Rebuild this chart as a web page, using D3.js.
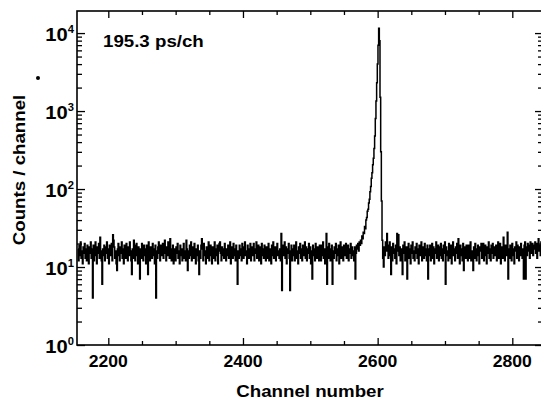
<!DOCTYPE html>
<html>
<head>
<meta charset="utf-8">
<script src="https://cdn.jsdelivr.net/npm/d3@7"></script>
<style>
  html, body { margin: 0; padding: 0; background: #fff; }
  svg { display: block; font-family: "Liberation Sans", Arial, Helvetica, sans-serif; }
</style>
</head>
<body>
<script>
// ---- data ----
const firstChannel = 2155;
const counts = [
  17,12,19,14,21,13,16,11,18,15,20,13,17,12,19,14,11,18,15,21,
  13,17,4,19,12,16,21,14,11,18,15,20,13,24,16,12,6,17,14,19,
  12,18,15,21,13,17,11,19,14,16,20,12,26,22,18,13,16,11,9,17,
  20,14,12,18,15,21,13,17,11,19,16,13,20,15,12,18,14,21,16,12,
  8,17,13,22,19,12,16,20,14,11,18,15,7,17,13,20,16,12,19,14,
  17,11,19,14,8,21,15,12,18,16,13,20,14,17,11,19,4,16,13,18,
  21,15,12,19,14,17,20,13,16,22,15,12,18,14,21,16,13,23,17,12,
  15,19,11,17,14,12,18,15,20,13,16,11,19,14,17,12,15,20,13,16,
  12,22,17,9,16,13,19,14,21,12,15,18,13,20,16,11,17,14,19,12,
  8,16,13,19,23,17,12,20,14,16,11,18,15,13,21,12,16,19,14,11,
  18,13,16,21,12,17,14,19,11,16,20,21,15,12,18,14,17,13,20,15,
  12,17,14,19,13,16,21,11,18,15,13,20,14,17,12,19,15,6,16,13,
  19,14,17,12,20,15,13,18,21,14,16,11,19,15,13,17,20,12,16,18,
  14,20,12,17,15,21,13,16,19,12,18,15,11,20,14,17,13,19,15,12,
  18,13,16,20,12,17,15,11,19,14,21,13,16,18,12,17,20,14,16,13,
  17,12,27,5,19,14,16,21,13,18,11,17,15,20,13,5,16,19,12,17,
  14,19,12,17,21,13,16,11,18,15,20,13,17,12,19,14,16,21,13,18,
  12,17,15,20,13,18,11,16,7,19,14,17,12,20,15,13,18,16,12,19,
  15,12,19,14,21,13,17,11,16,27,6,18,13,20,15,12,17,19,6,16,
  13,18,15,20,12,17,14,19,11,16,21,13,18,15,12,19,14,17,20,13,
  16,19,12,17,15,20,13,18,14,16,12,18,7,15,19,17,20,16,21,19,
  22,20,25,23,28,27,33,31,40,43,52,55,66,74,92,108,138,162,205,248,
  330,480,800,1350,2300,4000,7000,11500,8000,1500,300,70,22,13,10,18,14,21,16,27,
  19,13,17,21,14,8,18,12,20,15,17,13,19,11,27,16,26,14,18,12,
  17,13,8,19,15,21,12,16,18,7,14,20,13,17,11,19,15,21,13,16,
  12,18,15,20,13,17,11,19,14,16,21,12,18,15,13,20,14,17,12,19,
  7,17,14,19,12,16,20,13,18,11,17,15,21,13,16,19,12,18,14,20,
  13,17,12,19,15,21,6,18,14,16,12,20,13,17,19,11,16,21,14,17,
  12,18,15,20,13,23,16,11,19,14,17,12,20,9,18,15,13,19,16,12,
  19,13,17,21,12,16,14,9,18,13,20,15,12,17,19,14,11,18,16,20,
  13,17,20,12,16,19,14,11,18,15,21,13,17,12,19,15,20,13,16,18,
  14,19,12,17,21,13,16,20,11,18,15,13,24,17,12,19,14,16,28,7,
  17,13,19,15,12,20,14,17,11,18,16,21,13,19,15,12,18,14,20,16,
  13,17,7,19,21,7,18,14,20,16,19,13,21,17,15,20,14,19,17,21,
  15,20,13,18,23,16,19,14,21,17,15
];
const xMajorTicks = [2200, 2400, 2600, 2800];
const xMinorStep = 50;
const yDecadeExponents = [0, 1, 2, 3, 4];
const annotationText = "195.3 ps/ch";
const xTitle = "Channel number";
const yTitle = "Counts / channel";

// ---- layout ----
const W = 541, H = 400;
const L = 77, R = 542, T = 11, B = 345;

const svg = d3.select("body").append("svg").attr("width", W).attr("height", H);

const x = d3.scaleLinear().domain([2153.5, 2844.1]).range([L, R]);
const y = d3.scaleLog().domain([1, Math.pow(10, 4.283)]).range([B, T]);

const xMinor = d3.range(2200, 2845, xMinorStep).filter(v => !xMajorTicks.includes(v));
const yMinor = y.ticks().filter(v => Math.abs(Math.log10(v) - Math.round(Math.log10(v))) > 1e-9);
const yMajor = yDecadeExponents.map(e => Math.pow(10, e));

function styleAxis(g) {
  g.select(".domain").remove();
  g.selectAll("line").attr("stroke", "#000").attr("stroke-width", 1.3);
}
// bottom
svg.append("g").attr("transform", `translate(0,${B})`)
  .call(d3.axisBottom(x).tickValues(xMajorTicks).tickSize(-7).tickFormat(() => "")).call(styleAxis);
svg.append("g").attr("transform", `translate(0,${B})`)
  .call(d3.axisBottom(x).tickValues(xMinor).tickSize(-4).tickFormat(() => "")).call(styleAxis);
// top
svg.append("g").attr("transform", `translate(0,${T})`)
  .call(d3.axisTop(x).tickValues(xMajorTicks).tickSize(-7).tickFormat(() => "")).call(styleAxis);
svg.append("g").attr("transform", `translate(0,${T})`)
  .call(d3.axisTop(x).tickValues(xMinor).tickSize(-4).tickFormat(() => "")).call(styleAxis);
// left
svg.append("g").attr("transform", `translate(${L},0)`)
  .call(d3.axisLeft(y).tickValues(yMajor).tickSize(-8).tickFormat(() => "")).call(styleAxis);
svg.append("g").attr("transform", `translate(${L},0)`)
  .call(d3.axisLeft(y).tickValues(yMinor).tickSize(-5).tickFormat(() => "")).call(styleAxis);
// right
svg.append("g").attr("transform", `translate(${R},0)`)
  .call(d3.axisRight(y).tickValues(yMajor).tickSize(-7).tickFormat(() => "")).call(styleAxis);
svg.append("g").attr("transform", `translate(${R},0)`)
  .call(d3.axisRight(y).tickValues(yMinor).tickSize(-4).tickFormat(() => "")).call(styleAxis);

// frame
svg.append("rect").attr("x", L).attr("y", T).attr("width", R - L).attr("height", B - T)
  .attr("fill", "none").attr("stroke", "#000").attr("stroke-width", 1.6);

// data
svg.append("clipPath").attr("id", "clip").append("rect")
  .attr("x", L).attr("y", T).attr("width", R - L).attr("height", B - T);
const line = d3.line()
  .x((d, i) => x(firstChannel + i))
  .y(d => y(d))
  .curve(d3.curveStep);
svg.append("path").datum(counts)
  .attr("clip-path", "url(#clip)")
  .attr("d", line)
  .attr("fill", "none").attr("stroke", "#000").attr("stroke-width", 1.5)
  .attr("stroke-linejoin", "miter");

// text helper
function sText(px, py, txt, size, anchor, sx, extra) {
  const g = svg.append("g").attr("transform", `translate(${px},${py}) ${extra || ""} scale(${sx},1)`);
  return g.append("text").attr("text-anchor", anchor).attr("font-size", size)
    .attr("font-weight", "bold").attr("fill", "#000").text(txt);
}

// x tick labels
xMajorTicks.forEach(v => sText(x(v), 367, String(v), 16, "middle", 1.1));

// y tick labels
yDecadeExponents.forEach(e => {
  const g = svg.append("g").attr("transform", `translate(74,${y(Math.pow(10, e)) + 8}) scale(1.12,1)`);
  const t = g.append("text").attr("text-anchor", "end").attr("font-weight", "bold").attr("fill", "#000");
  t.append("tspan").attr("font-size", 18).text("10");
  t.append("tspan").attr("font-size", 10).attr("dy", -8).text(String(e));
});

// annotation
sText(103, 47, annotationText, 17, "start", 1.1);
// axis titles
sText(310, 397, xTitle, 17, "middle", 1.1);
sText(25, 170, yTitle, 17, "middle", 1.1, "rotate(-90)");

// stray dot from the original scan
svg.append("circle").attr("cx", 38).attr("cy", 78).attr("r", 2).attr("fill", "#000");
</script>
</body>
</html>
